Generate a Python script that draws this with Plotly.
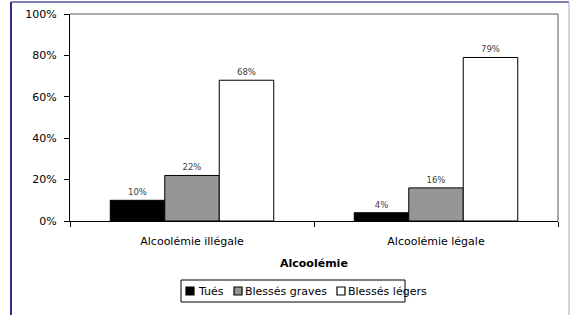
import plotly.graph_objects as go

categories = ["Alcoolémie illégale", "Alcoolémie légale"]
series_names = ["Tués", "Blessés graves", "Blessés légers"]
tues = [0.10, 0.04]
graves = [0.22, 0.16]
legers = [0.68, 0.79]
labels_tues = ["10%", "4%"]
labels_graves = ["22%", "16%"]
labels_legers = ["68%", "79%"]
y_ticks = [0, 0.2, 0.4, 0.6, 0.8, 1.0]
y_tick_labels = ["0%", "20%", "40%", "60%", "80%", "100%"]

colors = ["#000000", "#969696", "#ffffff"]
FONT = "DejaVu Sans"

# plot area in pixels
L, R, T, B = 70, 558, 14, 221
W, H = R - L, B - T


def px(x):
    return (x - L) / W


def py(y):
    return (B - y) / H


fig = go.Figure()
for name, vals, labs, col in zip(series_names, [tues, graves, legers],
                                 [labels_tues, labels_graves, labels_legers], colors):
    fig.add_trace(go.Bar(
        x=categories, y=vals, name=name, text=labs, textposition="outside",
        textfont=dict(size=8.5, color="#404040", family=FONT),
        marker=dict(color=col, line=dict(color="#000000", width=1)),
        cliponaxis=False, showlegend=False,
    ))

shapes = [
    dict(type="line", xref="paper", yref="paper", x0=0, x1=1, y0=1, y1=1,
         line=dict(color="#555555", width=1)),
    dict(type="line", xref="paper", yref="paper", x0=1, x1=1, y0=0, y1=1,
         line=dict(color="#555555", width=1)),
    dict(type="line", xref="paper", yref="paper", x0=px(11), x1=px(11), y0=py(320), y1=py(2),
         line=dict(color="#2e2e8a", width=2)),
    dict(type="line", xref="paper", yref="paper", x0=px(11), x1=px(569), y0=py(2), y1=py(2),
         line=dict(color="#5555a0", width=1.5)),
    dict(type="line", xref="paper", yref="paper", x0=px(569), x1=px(569), y0=py(320), y1=py(2),
         line=dict(color="#c8c0dc", width=1.5)),
    # legend box
    dict(type="rect", xref="paper", yref="paper", x0=px(181), x1=px(405), y0=py(302), y1=py(280),
         line=dict(color="#000000", width=1), fillcolor="white"),
]
annotations = [
    dict(text="<b>Alcoolémie</b>", xref="paper", yref="paper", x=0.5, y=py(263),
         xanchor="center", yanchor="middle", showarrow=False,
         font=dict(family=FONT, size=11, color="#000000")),
]
legend_sq_x = [186, 234, 337]
legend_txt_x = [196, 243, 346]
for name, col, sx, tx in zip(series_names, colors, legend_sq_x, legend_txt_x):
    shapes.append(dict(type="rect", xref="paper", yref="paper", x0=px(sx), x1=px(sx + 8),
                       y0=py(295), y1=py(287), line=dict(color="#000000", width=1.2),
                       fillcolor=col))
    annotations.append(dict(text=name, xref="paper", yref="paper", x=px(tx), y=py(291),
                            xanchor="left", yanchor="middle", showarrow=False,
                            font=dict(family=FONT, size=11, color="#000000")))

fig.update_layout(
    width=570, height=315,
    margin=dict(l=L, r=570 - R, t=T, b=315 - B, autoexpand=False),
    paper_bgcolor="white", plot_bgcolor="white",
    font=dict(family=FONT, size=11, color="#000000"),
    barmode="group", bargap=0.33, bargroupgap=0,
    showlegend=False,
    xaxis=dict(showline=True, linecolor="#000000", linewidth=1,
               ticks="outside", ticklen=5, tickcolor="#000000",
               tickson="boundaries", showgrid=False, automargin=False,
               ticklabelstandoff=10,
               tickfont=dict(size=11, family=FONT)),
    yaxis=dict(range=[0, 1.0], tickvals=y_ticks, ticktext=y_tick_labels,
               showline=True, linecolor="#000000", linewidth=1,
               ticks="outside", ticklen=5, tickcolor="#000000",
               showgrid=False, zeroline=False, automargin=False,
               ticklabelstandoff=5,
               tickfont=dict(size=11, family=FONT)),
    shapes=shapes,
    annotations=annotations,
)

fig.write_html("out.html", config={"displayModeBar": False},
               post_script="document.body.style.margin='0';document.body.style.overflow='hidden';")
